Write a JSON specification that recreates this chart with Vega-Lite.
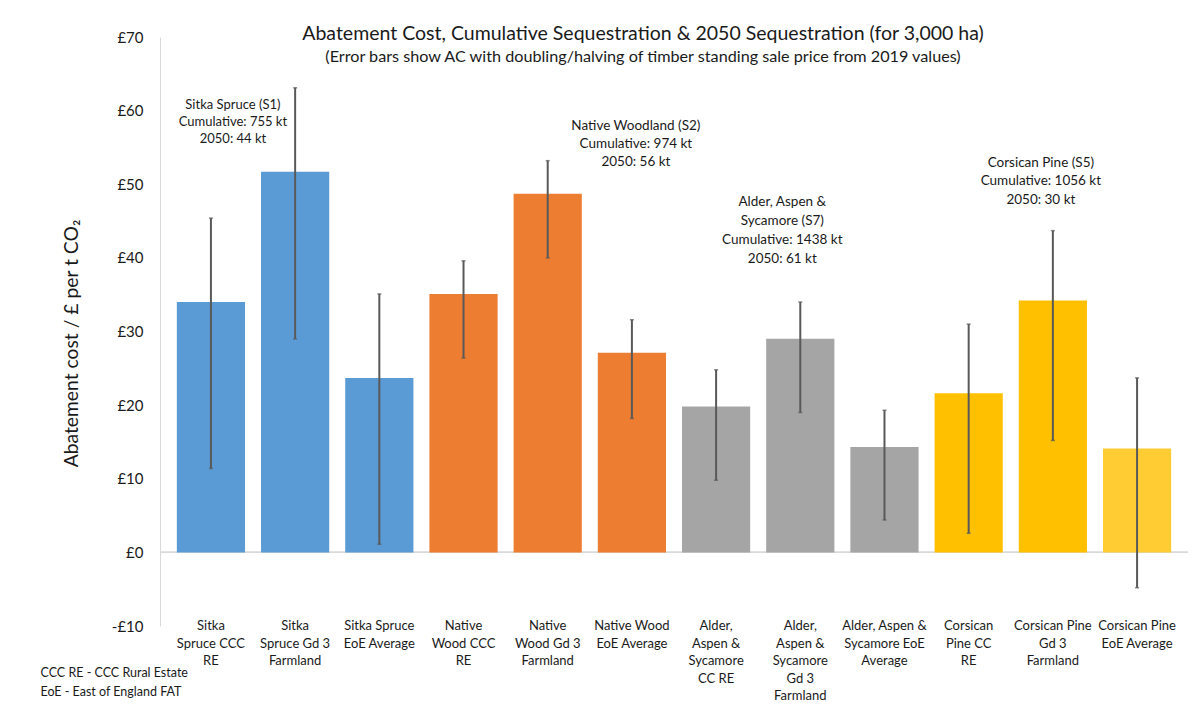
{
  "$schema": "https://vega.github.io/schema/vega-lite/v6.json",
  "width": 1028,
  "height": 589,
  "autosize": {"type": "none"},
  "padding": {"left": 160, "top": 37, "right": 6, "bottom": 92},
  "background": "white",
  "config": {"font": "Lato", "view": {"stroke": null}},
  "title": {
    "text": "Abatement Cost, Cumulative Sequestration & 2050 Sequestration (for 3,000 ha)",
    "subtitle": "(Error bars show AC with doubling/halving of timber standing sale price from 2019 values)",
    "anchor": "middle",
    "frame": "group",
    "dx": -31,
    "offset": -36,
    "fontSize": 19.5,
    "fontWeight": "normal",
    "color": "#1a1a1a",
    "subtitleFontSize": 16.2,
    "subtitleColor": "#1a1a1a",
    "subtitlePadding": 4
  },
  "data": {
    "values": [
      {"cat": "Sitka Spruce CCC RE", "group": "Sitka Spruce", "label": "Sitka\nSpruce CCC\nRE", "ac": 34.0, "lo": 11.4, "hi": 45.4},
      {"cat": "Sitka Spruce Gd 3 Farmland", "group": "Sitka Spruce", "label": "Sitka\nSpruce Gd 3\nFarmland", "ac": 51.7, "lo": 29.0, "hi": 63.1},
      {"cat": "Sitka Spruce EoE Average", "group": "Sitka Spruce", "label": "Sitka Spruce\nEoE Average", "ac": 23.7, "lo": 1.1, "hi": 35.1},
      {"cat": "Native Wood CCC RE", "group": "Native Woodland", "label": "Native\nWood CCC\nRE", "ac": 35.1, "lo": 26.4, "hi": 39.6},
      {"cat": "Native Wood Gd 3 Farmland", "group": "Native Woodland", "label": "Native\nWood Gd 3\nFarmland", "ac": 48.7, "lo": 40.0, "hi": 53.2},
      {"cat": "Native Wood EoE Average", "group": "Native Woodland", "label": "Native Wood\nEoE Average", "ac": 27.1, "lo": 18.2, "hi": 31.6},
      {"cat": "Alder, Aspen & Sycamore CC RE", "group": "Alder, Aspen & Sycamore", "label": "Alder,\nAspen &\nSycamore\nCC RE", "ac": 19.8, "lo": 9.8, "hi": 24.8},
      {"cat": "Alder, Aspen & Sycamore Gd 3 Farmland", "group": "Alder, Aspen & Sycamore", "label": "Alder,\nAspen &\nSycamore\nGd 3\nFarmland", "ac": 29.0, "lo": 19.0, "hi": 34.0},
      {"cat": "Alder, Aspen & Sycamore EoE Average", "group": "Alder, Aspen & Sycamore", "label": "Alder, Aspen &\nSycamore EoE\nAverage", "ac": 14.3, "lo": 4.4, "hi": 19.3},
      {"cat": "Corsican Pine CC RE", "group": "Corsican Pine", "label": "Corsican\nPine CC\nRE", "ac": 21.6, "lo": 2.6, "hi": 31.0},
      {"cat": "Corsican Pine Gd 3 Farmland", "group": "Corsican Pine", "label": "Corsican Pine\nGd 3\nFarmland", "ac": 34.2, "lo": 15.2, "hi": 43.7},
      {"cat": "Corsican Pine EoE Average", "group": "Corsican Pine EoE", "label": "Corsican Pine\nEoE Average", "ac": 14.1, "lo": -4.8, "hi": 23.7}
    ]
  },
  "encoding": {
    "x": {
      "field": "cat",
      "type": "nominal",
      "sort": null,
      "scale": {"paddingInner": 0.19, "paddingOuter": 0.2},
      "axis": {
        "labels": false,
        "ticks": false,
        "domain": false,
        "title": ["CCC RE - CCC Rural Estate", "EoE - East of England FAT"],
        "titleAnchor": "start",
        "titleAlign": "left",
        "titleAngle": 0,
        "titleX": -120,
        "titleY": 40,
        "titleBaseline": "top",
        "titleFontSize": 12.5,
        "titleFontWeight": "normal",
        "titleColor": "#1a1a1a",
        "titleLineHeight": 19
      }
    }
  },
  "layer": [
    {
      "mark": {"type": "rule", "color": "#D9D9D9", "strokeWidth": 1},
      "encoding": {"x": null, "y": {"datum": 0, "type": "quantitative"}}
    },
    {
      "mark": {"type": "bar"},
      "encoding": {
        "y": {
          "field": "ac",
          "type": "quantitative",
          "scale": {"domain": [-10, 70], "nice": false, "zero": false},
          "axis": {
            "values": [-10, 0, 10, 20, 30, 40, 50, 60, 70],
            "grid": false,
            "ticks": false,
            "domain": true,
            "domainColor": "#D9D9D9",
            "labelExpr": "datum.value < 0 ? '-£' + abs(datum.value) : '£' + datum.value",
            "labelFontSize": 15,
            "labelColor": "#1a1a1a",
            "labelPadding": 17,
            "title": "Abatement cost / £ per t CO₂",
            "titleFontSize": 19.3,
            "titleFontWeight": "normal",
            "titleColor": "#1a1a1a",
            "titlePadding": 30,
            "titleY": 306
          }
        },
        "color": {
          "field": "group",
          "type": "nominal",
          "scale": {
            "domain": ["Sitka Spruce", "Native Woodland", "Alder, Aspen & Sycamore", "Corsican Pine", "Corsican Pine EoE"],
            "range": ["#5B9BD5", "#ED7D31", "#A5A5A5", "#FFC000", "#FFCD33"]
          },
          "legend": null
        }
      }
    },
    {
      "mark": {"type": "rule", "color": "#595959", "strokeWidth": 2},
      "encoding": {
        "y": {"field": "lo", "type": "quantitative"},
        "y2": {"field": "hi"}
      }
    },
    {
      "mark": {"type": "tick", "color": "#595959", "size": 4, "thickness": 1.5},
      "encoding": {"y": {"field": "lo", "type": "quantitative"}}
    },
    {
      "mark": {"type": "tick", "color": "#595959", "size": 4, "thickness": 1.5},
      "encoding": {"y": {"field": "hi", "type": "quantitative"}}
    },
    {
      "mark": {"type": "text", "lineBreak": "\n", "fontSize": 13, "lineHeight": 17.5, "baseline": "middle", "align": "center", "color": "#1a1a1a"},
      "encoding": {
        "y": {"datum": -10, "type": "quantitative"},
        "text": {"field": "label"}
      }
    },
    {
      "data": {"values": [{"cat": "Sitka Spruce CCC RE", "pos": 61.6, "note": "Sitka Spruce (S1)\nCumulative: 755 kt\n2050: 44 kt"}]},
      "mark": {"type": "text", "lineBreak": "\n", "fontSize": 13, "lineHeight": 17, "baseline": "top", "align": "center", "dx": 22, "color": "#1a1a1a"},
      "encoding": {"y": {"field": "pos", "type": "quantitative"}, "text": {"field": "note"}}
    },
    {
      "data": {"values": [{"cat": "Native Wood EoE Average", "pos": 58.8, "note": "Native Woodland (S2)\nCumulative: 974 kt\n2050: 56 kt"}]},
      "mark": {"type": "text", "lineBreak": "\n", "fontSize": 13.5, "lineHeight": 18, "baseline": "top", "align": "center", "dx": 4, "color": "#1a1a1a"},
      "encoding": {"y": {"field": "pos", "type": "quantitative"}, "text": {"field": "note"}}
    },
    {
      "data": {"values": [{"cat": "Alder, Aspen & Sycamore Gd 3 Farmland", "pos": 48.5, "note": "Alder, Aspen &\nSycamore (S7)\nCumulative: 1438 kt\n2050: 61 kt"}]},
      "mark": {"type": "text", "lineBreak": "\n", "fontSize": 13.5, "lineHeight": 19, "baseline": "top", "align": "center", "dx": -18, "color": "#1a1a1a"},
      "encoding": {"y": {"field": "pos", "type": "quantitative"}, "text": {"field": "note"}}
    },
    {
      "data": {"values": [{"cat": "Corsican Pine Gd 3 Farmland", "pos": 53.9, "note": "Corsican Pine (S5)\nCumulative: 1056 kt\n2050: 30 kt"}]},
      "mark": {"type": "text", "lineBreak": "\n", "fontSize": 13.5, "lineHeight": 18.5, "baseline": "top", "align": "center", "dx": -12, "color": "#1a1a1a"},
      "encoding": {"y": {"field": "pos", "type": "quantitative"}, "text": {"field": "note"}}
    }
  ]
}
